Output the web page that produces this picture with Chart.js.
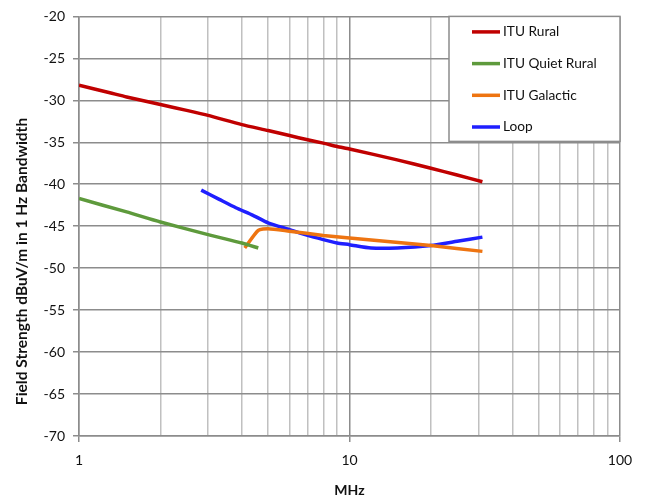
<!DOCTYPE html>
<html>
<head>
<meta charset="utf-8">
<script src="https://cdn.jsdelivr.net/npm/chart.js@4"></script>
<style>
  html, body { margin: 0; padding: 0; background: #fff; }
  #wrap { width: 645px; height: 499px; }
</style>
</head>
<body>
<div id="wrap"><canvas id="noiseChart" width="645" height="499"></canvas></div>
<script>
// --- DATA ---
const seriesNames = ['ITU Rural', 'ITU Quiet Rural', 'ITU Galactic', 'Loop'];
const seriesColors = ['#C00000', '#5E9A3C', '#EE7411', '#1F1FFF'];

const ruralMHz = [1, 1.3, 1.5, 2, 2.5, 3, 4, 5, 6, 7, 8, 9, 10, 15, 20, 25, 31];
const ruralDb  = [-28.2, -29.1, -29.6, -30.5, -31.2, -31.8, -32.9, -33.6, -34.2, -34.7, -35.1, -35.5, -35.8, -37.1, -38.1, -38.9, -39.7];

const quietMHz = [1, 1.5, 2, 3, 4, 4.6];
const quietDb  = [-41.7, -43.3, -44.5, -46.0, -47.0, -47.6];

const galacticMHz = [4.1, 4.6, 5.0, 6, 8, 10, 20, 31];
const galacticDb  = [-47.6, -45.5, -45.3, -45.6, -46.1, -46.4, -47.3, -48.0];

const loopMHz = [2.83, 3.3, 3.8, 4.4, 5, 6, 7, 8, 9, 10, 12, 15, 20, 25, 31];
const loopDb  = [-40.7, -41.8, -42.8, -43.7, -44.6, -45.4, -46.1, -46.6, -47.0, -47.2, -47.6, -47.6, -47.3, -46.8, -46.3];

const xTickValues = [1, 2, 3, 4, 5, 6, 7, 8, 9, 10, 20, 30, 40, 50, 60, 70, 80, 90, 100];
const xLabelValues = [1, 10, 100];
const yTitle = 'Field Strength dBuV/m in 1 Hz Bandwidth';
// --- END DATA ---

const FONT = 'Lato, "Open Sans", sans-serif';
const GRID_DARK = '#8c8c8c';
const GRID_LIGHT = '#c0c0c0';

const toPoints = (xs, ys) => xs.map((x, i) => ({ x: x, y: ys[i] }));
const seriesData = [
    toPoints(ruralMHz, ruralDb),
    toPoints(quietMHz, quietDb),
    toPoints(galacticMHz, galacticDb),
    toPoints(loopMHz, loopDb)
];

// legend box inside the plot, top right, like the Excel original
const boxLegend = {
    id: 'boxLegend',
    afterDatasetsDraw(chart) {
        const ctx = chart.ctx;
        const area = chart.chartArea;
        const w = 171, h = 125;
        const x0 = area.right - w, y0 = area.top;
        ctx.save();
        ctx.fillStyle = '#fff';
        ctx.fillRect(x0, y0, w, h);
        ctx.strokeStyle = GRID_DARK;
        ctx.lineWidth = 1.5;
        ctx.strokeRect(x0, y0, w, h);
        ctx.font = '13.7px ' + FONT;
        ctx.textBaseline = 'middle';
        ctx.fillStyle = '#111';
        chart.data.datasets.forEach((ds, i) => {
            const cy = y0 + 15.5 + i * 31.7;
            ctx.strokeStyle = ds.borderColor;
            ctx.lineWidth = 3.5;
            ctx.beginPath();
            ctx.moveTo(x0 + 23, cy);
            ctx.lineTo(x0 + 51, cy);
            ctx.stroke();
            ctx.fillText(ds.label, x0 + 54, cy);
        });
        ctx.restore();
    }
};

// Excel puts the y title a bit below the plot centre, so draw it by hand
const yAxisTitle = {
    id: 'yAxisTitle',
    afterDraw(chart) {
        const ctx = chart.ctx;
        ctx.save();
        ctx.translate(22, 261.5);
        ctx.rotate(-Math.PI / 2);
        ctx.font = 'bold 15.5px ' + FONT;
        ctx.fillStyle = '#111';
        ctx.textAlign = 'center';
        ctx.textBaseline = 'middle';
        ctx.fillText(yTitle, 0, 0);
        ctx.restore();
    }
};

const chart = new Chart(document.getElementById('noiseChart').getContext('2d'), {
    type: 'line',
    data: {
        datasets: seriesNames.map((name, i) => ({
            label: name,
            data: seriesData[i],
            borderColor: seriesColors[i],
            backgroundColor: seriesColors[i],
            borderWidth: 3.5,
            pointRadius: 0,
            tension: 0.2,
            fill: false
        }))
    },
    options: {
        responsive: false,
        animation: false,
        layout: { padding: { left: 0, right: 25, top: 14, bottom: 0 } },
        plugins: { legend: { display: false }, tooltip: { enabled: false } },
        scales: {
            x: {
                type: 'logarithmic',
                min: 1,
                max: 100,
                afterBuildTicks: (scale) => { scale.ticks = xTickValues.map(v => ({ value: v })); },
                afterFit: (scale) => { scale.height = 63; },
                ticks: {
                    autoSkip: false,
                    maxRotation: 0,
                    padding: 10,
                    color: '#111',
                    font: { family: FONT, size: 14 },
                    callback: (value) => xLabelValues.includes(value) ? String(value) : ''
                },
                grid: {
                    color: (c) => xLabelValues.includes(c.tick && c.tick.value) ? GRID_DARK : GRID_LIGHT,
                    tickColor: (c) => xLabelValues.includes(c.tick && c.tick.value) ? GRID_DARK : 'rgba(0,0,0,0)',
                    lineWidth: 1.5,
                    tickLength: 6
                },
                border: { color: GRID_DARK, width: 1.5 },
                title: { display: true, text: 'MHz', color: '#111', font: { family: FONT, size: 14, weight: 'bold' }, padding: { top: 0, bottom: 0 } }
            },
            y: {
                min: -70,
                max: -20,
                afterFit: (scale) => { scale.width = 79; },
                ticks: { stepSize: 5, padding: 8, color: '#111', font: { family: FONT, size: 14 } },
                grid: { color: GRID_DARK, lineWidth: 1.5, tickLength: 6 },
                border: { color: GRID_DARK, width: 1.5 },
                title: { display: false }
            }
        }
    },
    plugins: [boxLegend, yAxisTitle]
});
</script>
</body>
</html>
